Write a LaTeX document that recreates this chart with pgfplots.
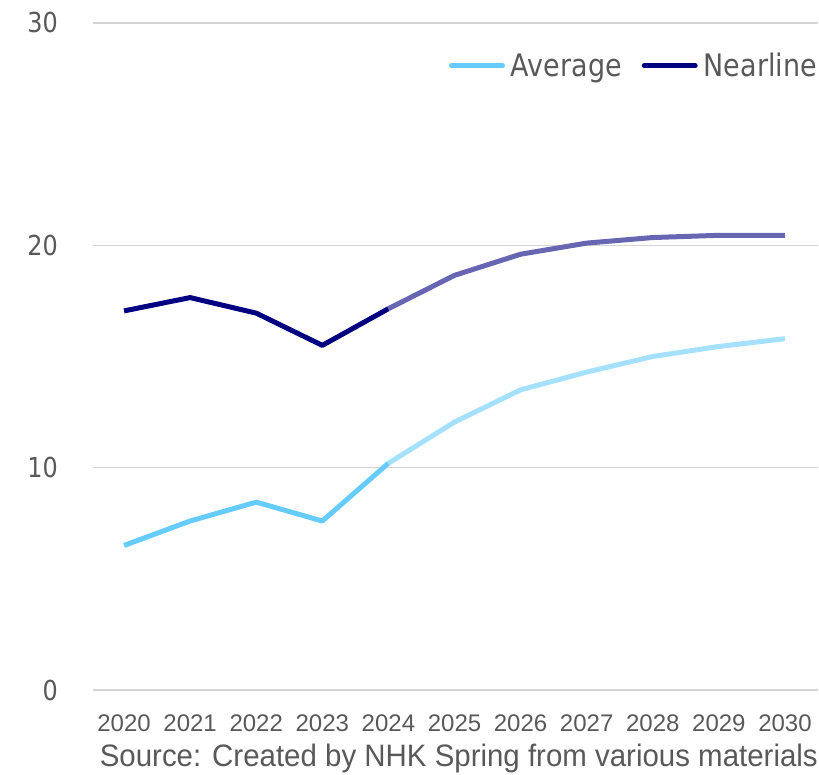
\documentclass[border=0pt]{standalone}
\usepackage{pgfplots}
\pgfplotsset{compat=1.18}
\usepackage{fontspec}
\setmainfont{Liberation Sans}
\newfontfamily\tickfont[FakeStretch=0.87]{DejaVu Sans}
\newfontfamily\sourcefont[FakeStretch=0.95]{Liberation Sans}

\definecolor{txt}{HTML}{595959}
\definecolor{gridgray}{HTML}{D4D4D4}
\definecolor{avg}{HTML}{66CCFF}
\definecolor{avglight}{HTML}{A6E0FF}
\definecolor{near}{HTML}{000080}
\definecolor{nearlight}{HTML}{6666B3}

% Actual values (2020-2024) and outlook (2024-2030)
\pgfplotstableread{
year avg near
2020 6.5 17.05
2021 7.6 17.65
2022 8.45 16.95
2023 7.6 15.5
2024 10.2 17.15
}\actual
\pgfplotstableread{
year avg near
2024 10.2 17.15
2025 12.05 18.65
2026 13.5 19.6
2027 14.3 20.1
2028 15.0 20.35
2029 15.45 20.45
2030 15.8 20.45
}\outlook

\begin{document}
\begin{tikzpicture}[x=1pt,y=1pt]
\path[use as bounding box] (-93,-85) rectangle (726,690);
\begin{axis}[
  at={(0,0)}, anchor=south west,
  scale only axis, width=725pt, height=667pt,
  xmin=2019.53, xmax=2030.5, ymin=0, ymax=30,
  xtick={2020,2021,...,2030}, ytick={0,10,20,30},
  axis line style={draw=none},
  tick style={draw=none},
  major tick length=0pt,
  ymajorgrids, grid style={color=gridgray, line width=1.6pt},
  /pgf/number format/assume math mode=true,
  /pgf/number format/set thousands separator={},
  xticklabel style={font=\fontsize{24}{24}\selectfont, text=txt,
    anchor=north, inner sep=0pt, yshift=-25pt},
  yticklabel style={font=\tickfont\fontsize{27.5}{27.5}\selectfont, text=txt,
    anchor=east, inner sep=0pt, xshift=-35pt},
  legend columns=2,
  legend style={at={(rel axis cs:1,1)}, anchor=north east,
    xshift=4pt, yshift=-26pt, draw=none, fill=none,
    font=\tickfont\fontsize{31}{31}\selectfont, text=txt,
    nodes={inner sep=2pt}, column sep=0pt,
    /tikz/every odd column/.append style={column sep=4pt},
    /tikz/every even column/.append style={column sep=18pt}},
  legend image code/.code={\draw[#1, line width=5pt, line cap=round]
    (2.5pt,0pt) -- (53.5pt,0pt);},
  every axis plot/.append style={line width=5pt, line join=round},
]
\addplot[avg] table[x=year, y=avg] {\actual};
\addlegendentry{Average}
\addplot[near] table[x=year, y=near] {\actual};
\addlegendentry{Nearline}
\addplot[avglight, forget plot] table[x=year, y=avg] {\outlook};
\addplot[nearlight, forget plot] table[x=year, y=near] {\outlook};
\end{axis}
\node[anchor=base east, inner sep=0pt, text=txt,
  font=\sourcefont\fontsize{31}{31}\selectfont] at (725,-77)
  {Source: Created by NHK Spring from various materials};
\end{tikzpicture}
\end{document}
